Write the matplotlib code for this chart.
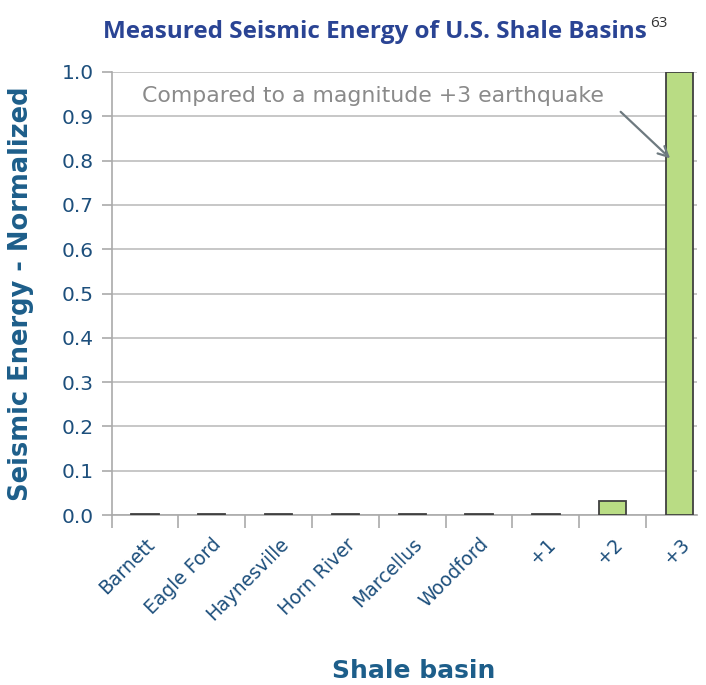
import matplotlib
matplotlib.use("Agg")
import matplotlib.pyplot as plt
import numpy as np

categories = ["Barnett", "Eagle Ford", "Haynesville", "Horn River", "Marcellus",
              "Woodford", "+1", "+2", "+3"]
values = [0.002, 0.002, 0.002, 0.002, 0.002, 0.002, 0.002, 0.032, 1.0]
yticks = [0.0, 0.1, 0.2, 0.3, 0.4, 0.5, 0.6, 0.7, 0.8, 0.9, 1.0]

fig = plt.figure(figsize=(7.06, 6.85), dpi=100)
ax = fig.add_axes([0.158, 0.248, 0.829, 0.647])

x = np.arange(len(categories))
ax.bar(x, values, width=0.41, color="#b9dc84", edgecolor="#404040", linewidth=1.3, zorder=3)

ax.set_xlim(-0.5, 8.26)
ax.set_ylim(0, 1.0)
ax.set_yticks(yticks)
ax.set_yticklabels([f"{v:.1f}" for v in yticks], fontsize=14.5, color="#1d4f7c", family="DejaVu Sans")
ax.yaxis.grid(True, color="#bdbdbd", linewidth=1.2, zorder=0)
ax.set_axisbelow(True)

ax.set_xticks(x)
ax.set_xticklabels(categories, rotation=45, ha="right", rotation_mode="anchor",
                   fontsize=13.5, color="#1d4f7c", family="DejaVu Sans")
ax.tick_params(axis="x", which="major", length=0, pad=14)
ax.set_xticks(np.arange(len(categories)) - 0.5, minor=True)
ax.tick_params(axis="x", which="minor", length=9, color="#aaaaaa", width=1.2)
ax.tick_params(axis="y", length=7, color="#aaaaaa", width=1.2, pad=6)

for s in ["top", "right"]:
    ax.spines[s].set_visible(False)
ax.spines["left"].set_color("#aaaaaa")
ax.spines["left"].set_linewidth(1.2)
ax.spines["bottom"].set_color("#aaaaaa")
ax.spines["bottom"].set_linewidth(1.2)

ax.set_ylabel("Seismic Energy - Normalized", fontsize=18.5, fontweight="bold",
              color="#1d5e8a")
ax.yaxis.set_label_coords(-0.133, 0.5)
ax.set_xlabel("Shale basin", fontsize=18, fontweight="bold", color="#1d5e8a")
ax.xaxis.set_label_coords(0.517, -0.325)

ax.text(-0.05, 0.945, "Compared to a magnitude +3 earthquake", fontsize=15.8,
        color="#8a8a8a", ha="left", va="center")
ax.annotate("", xy=(7.86, 0.805), xytext=(7.12, 0.91),
            arrowprops=dict(arrowstyle="->", color="#6e7a80", lw=1.6,
                            shrinkA=0, shrinkB=0, mutation_scale=18))

fig.text(0.531, 0.954, "Measured Seismic Energy of U.S. Shale Basins", fontsize=17.5,
         fontweight="bold", color="#2a4494", ha="center", va="center", family="Open Sans")
fig.text(0.921, 0.966, "63", fontsize=11, color="#333333", ha="left", va="center", family="Open Sans")

fig.savefig("out.png", dpi=100)
